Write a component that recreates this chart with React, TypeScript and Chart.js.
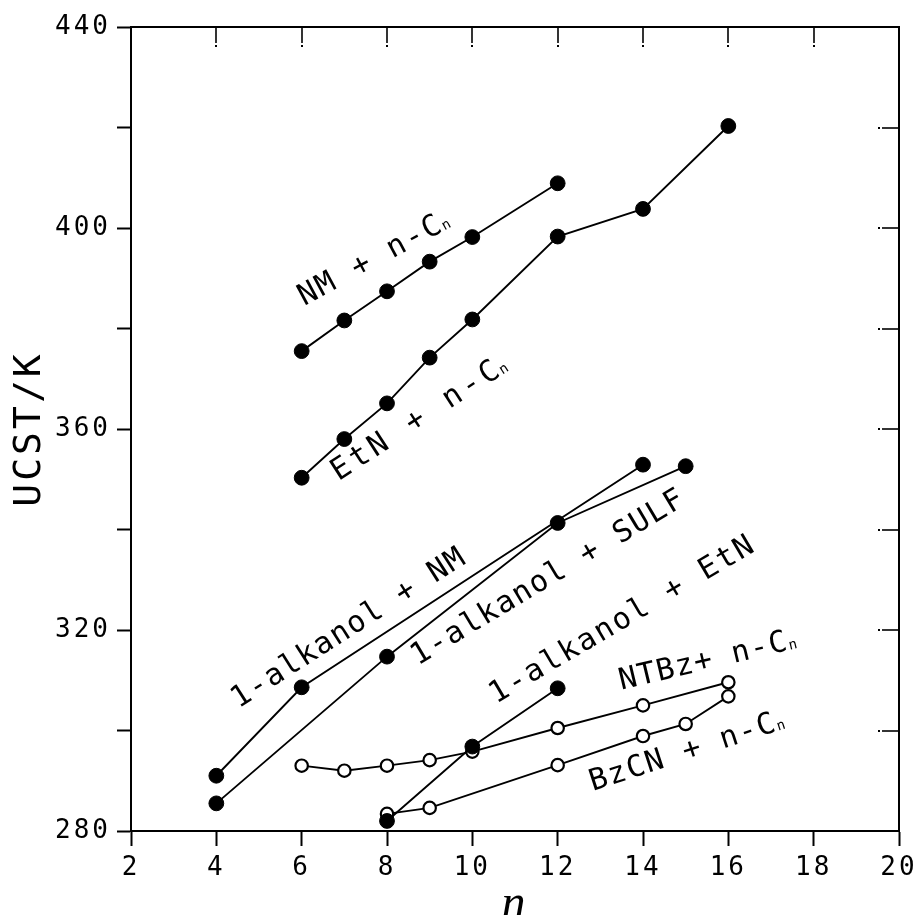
import React, { useEffect, useRef } from 'react';
import { Chart, registerables } from 'chart.js';

Chart.register(...registerables);

// NM + n-Cn
const nmN = [6, 7, 8, 9, 10, 12];
const nmUCST = [375.5, 381.6, 387.4, 393.3, 398.2, 408.9];
// EtN + n-Cn
const etnN = [6, 7, 8, 9, 10, 12, 14, 16];
const etnUCST = [350.3, 358.0, 365.1, 374.2, 381.8, 398.3, 403.8, 420.3];
// 1-alkanol + NM
const alkNmN = [4, 6, 14];
const alkNmUCST = [291.0, 308.6, 352.9];
// 1-alkanol + SULF
const alkSulfN = [4, 8, 12, 15];
const alkSulfUCST = [285.5, 314.7, 341.3, 352.6];
// 1-alkanol + EtN
const alkEtnN = [8, 10, 12];
const alkEtnUCST = [282.0, 296.8, 308.4];
// NTBz + n-Cn
const ntbzN = [6, 7, 8, 9, 10, 12, 14, 16];
const ntbzUCST = [293.0, 292.0, 293.0, 294.1, 295.8, 300.5, 305.0, 309.6];
// BzCN + n-Cn
const bzcnN = [8, 9, 12, 14, 15, 16];
const bzcnUCST = [283.4, 284.6, 293.1, 298.9, 301.3, 306.8];

const xTitle = 'n';
const yTitle = 'UCST/K';

// curve labels (anchor in data units, angle in degrees)
const curveLabels = [
  { text: 'NM + n-C', sub: 'n', x: 7.67, y: 394.3, angle: 28.3, spacing: 2.0 },
  { text: 'EtN + n-C', sub: 'n', x: 8.73, y: 362.5, angle: 33.0, spacing: 4.0 },
  { text: '1-alkanol + NM', sub: '', x: 7.06, y: 320.7, angle: 32.6, spacing: 1.4 },
  { text: '1-alkanol + SULF', sub: '', x: 11.73, y: 330.8, angle: 31.0, spacing: 1.6 },
  { text: '1-alkanol + EtN', sub: '', x: 13.47, y: 322.4, angle: 30.5, spacing: 2.2 },
  { text: 'NTBz+ n-C', sub: 'n', x: 15.5, y: 314.4, angle: 13.4, spacing: 1.2 },
  { text: 'BzCN + n-C', sub: 'n', x: 15.01, y: 296.3, angle: 18.0, spacing: 1.5 },
];

const MONO = '"DejaVu Sans Mono", "Liberation Mono", monospace';

const pts = (xs: number[], ys: number[]) => xs.map((v, i) => ({ x: v, y: ys[i] }));

const spacingPlugin = {
  id: 'spacing',
  beforeDraw(chart: any) {
    (chart.ctx as any).letterSpacing = '3px';
  },
};

const framePlugin = {
  id: 'frame',
  afterDraw(chart: any) {
    const { ctx, chartArea, scales } = chart;
    const { left, right, top, bottom } = chartArea;
    const xs = scales.x;
    const ys = scales.y;
    ctx.save();
    ctx.strokeStyle = '#000';
    ctx.fillStyle = '#000';
    ctx.lineWidth = 2;
    ctx.beginPath();
    ctx.moveTo(left - 1, top);
    ctx.lineTo(right, top);
    ctx.lineTo(right, bottom + 1);
    ctx.stroke();
    ctx.lineWidth = 1.6;
    xs.ticks.forEach((t: any) => {
      const px = Math.round(xs.getPixelForValue(t.value));
      ctx.beginPath();
      ctx.moveTo(px, top);
      ctx.lineTo(px, top + 16);
      ctx.stroke();
      ctx.fillRect(px - 1, top + 18, 2, 2);
    });
    ys.ticks.forEach((t: any) => {
      const py = Math.round(ys.getPixelForValue(t.value));
      ctx.beginPath();
      ctx.moveTo(right, py);
      ctx.lineTo(right - 17, py);
      ctx.stroke();
      ctx.fillRect(right - 21, py - 1, 2, 2);
    });
    ctx.restore();
  },
};

const labelPlugin = {
  id: 'curveLabels',
  afterDatasetsDraw(chart: any) {
    const { ctx, scales } = chart;
    const size = 30;
    const mainFont = `${size}px ${MONO}`;
    const subFont = `${Math.round(size * 0.48)}px ${MONO}`;
    curveLabels.forEach((a) => {
      const px = scales.x.getPixelForValue(a.x);
      const py = scales.y.getPixelForValue(a.y);
      ctx.save();
      ctx.translate(px, py);
      ctx.rotate((-a.angle * Math.PI) / 180);
      ctx.fillStyle = '#000';
      ctx.textAlign = 'left';
      ctx.textBaseline = 'alphabetic';
      ctx.font = mainFont;
      (ctx as any).letterSpacing = a.spacing + 'px';
      const w1 = ctx.measureText(a.text).width - a.spacing;
      ctx.font = subFont;
      (ctx as any).letterSpacing = '0px';
      const w2 = a.sub ? ctx.measureText(a.sub).width + 1 : 0;
      const total = w1 + w2;
      const base = (size * 0.729) / 2;
      ctx.font = mainFont;
      (ctx as any).letterSpacing = a.spacing + 'px';
      ctx.fillText(a.text, -total / 2, base);
      if (a.sub) {
        ctx.font = subFont;
        (ctx as any).letterSpacing = '0px';
        ctx.fillText(a.sub, -total / 2 + w1 + 1, base);
      }
      ctx.restore();
    });
  },
};

export default function App() {
  const ref = useRef<HTMLCanvasElement | null>(null);

  useEffect(() => {
    if (!ref.current) return;
    const filled = (xs: number[], ys: number[], order: number) => ({
      data: pts(xs, ys),
      borderColor: '#000',
      borderWidth: 1.9,
      pointRadius: 7.4,
      pointBorderWidth: 1,
      pointBackgroundColor: '#000',
      pointBorderColor: '#000',
      showLine: true,
      fill: false,
      tension: 0,
      order,
    });
    const open = (xs: number[], ys: number[], order: number) => ({
      data: pts(xs, ys),
      borderColor: '#000',
      borderWidth: 1.9,
      pointRadius: 6.2,
      pointBorderWidth: 2.2,
      pointBackgroundColor: '#fff',
      pointBorderColor: '#000',
      showLine: true,
      fill: false,
      tension: 0,
      order,
    });

    const chart = new Chart(ref.current, {
      type: 'line',
      data: {
        datasets: [
          filled(nmN, nmUCST, 1),
          filled(etnN, etnUCST, 2),
          filled(alkNmN, alkNmUCST, 3),
          filled(alkSulfN, alkSulfUCST, 4),
          filled(alkEtnN, alkEtnUCST, 5),
          open(ntbzN, ntbzUCST, 6),
          open(bzcnN, bzcnUCST, 7),
        ] as any,
      },
      options: {
        animation: false,
        responsive: false,
        devicePixelRatio: 1,
        layout: { padding: { top: 27, right: 19, left: 0, bottom: 0 } },
        plugins: {
          legend: { display: false },
          tooltip: { enabled: false },
        },
        scales: {
          x: {
            type: 'linear',
            position: 'bottom',
            min: 2,
            max: 20,
            ticks: {
              stepSize: 2,
              autoSkip: false,
              maxRotation: 0,
              color: '#000',
              padding: 7,
              font: { family: MONO, size: 26 },
            },
            grid: {
              drawOnChartArea: false,
              drawTicks: true,
              tickLength: 15,
              tickWidth: 2,
              color: '#000',
            },
            border: { display: true, color: '#000', width: 2 },
            title: {
              display: true,
              text: xTitle,
              color: '#000',
              font: { family: '"Liberation Serif", "DejaVu Serif", serif', style: 'italic', size: 48, lineHeight: 1 },
              padding: { top: 0, bottom: -14 },
            },
            afterFit: (s: any) => {
              s.height = 84;
              s.paddingLeft = 0;
              s.paddingRight = 0;
            },
          },
          y: {
            type: 'linear',
            min: 280,
            max: 440,
            ticks: {
              stepSize: 20,
              autoSkip: false,
              color: '#000',
              padding: 6,
              font: { family: MONO, size: 26 },
              callback: (v: any) => (Number(v) % 40 === 0 ? String(v) : ''),
            },
            grid: {
              drawOnChartArea: false,
              drawTicks: true,
              tickLength: 14,
              tickWidth: 2,
              color: '#000',
            },
            border: { display: true, color: '#000', width: 2 },
            title: {
              display: true,
              text: yTitle,
              color: '#000',
              font: { family: MONO, size: 38, lineHeight: 1.2 },
              padding: { top: 7, bottom: 0 },
            },
            afterFit: (s: any) => {
              s.width = 131;
              s.paddingTop = 0;
              s.paddingBottom = 0;
            },
          },
        },
      } as any,
      plugins: [spacingPlugin, framePlugin, labelPlugin],
    });
    return () => chart.destroy();
  }, []);

  return (
    <div style={{ position: 'fixed', left: 0, top: 0, width: 918, height: 915, background: '#fff' }}>
      <canvas ref={ref} width={918} height={915} style={{ display: 'block' }} />
    </div>
  );
}
